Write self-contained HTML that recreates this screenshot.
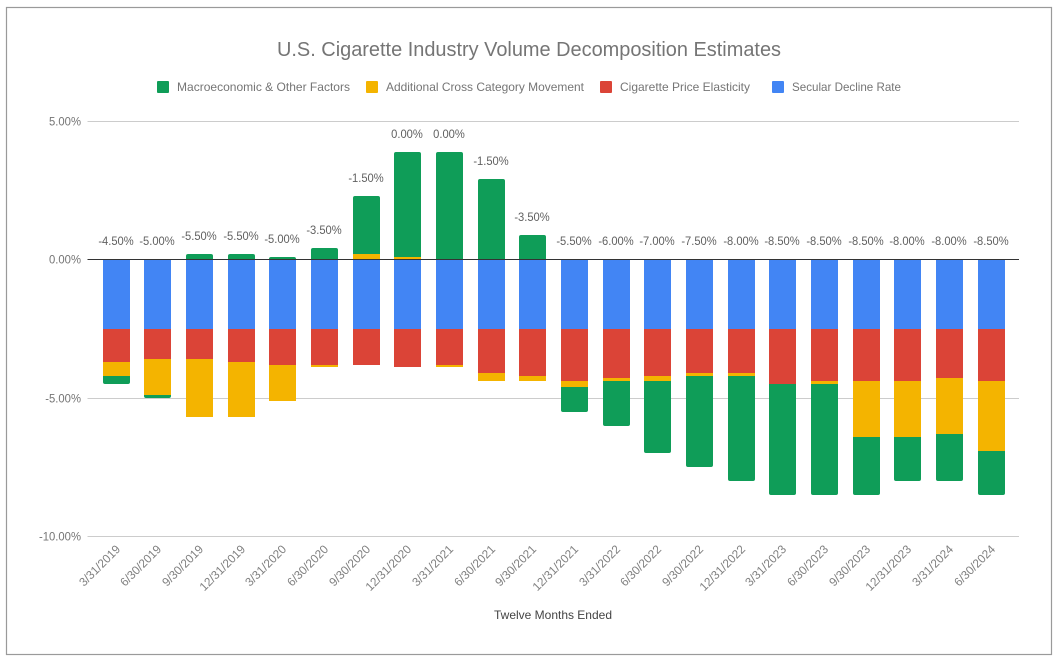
<!DOCTYPE html>
<html lang="en">
<head>
<meta charset="utf-8">
<title>U.S. Cigarette Industry Volume Decomposition Estimates</title>
<style>
html,body{margin:0;padding:0;background:#fff;}
body{width:1059px;height:661px;overflow:hidden;}
svg{display:block;font-family:"Liberation Sans",Arial,sans-serif;}
</style>
</head>
<body>
<svg id="chart" xmlns="http://www.w3.org/2000/svg" width="1059" height="661" viewBox="0 0 1059 661">
  <rect x="0" y="0" width="1059" height="661" fill="#ffffff"/>
  <rect x="6.5" y="7.5" width="1045" height="647" fill="none" stroke="#9a9a9a" stroke-width="1.2"/>
  <text x="277" y="56" font-size="20" fill="#757575" textLength="504" lengthAdjust="spacingAndGlyphs">U.S. Cigarette Industry Volume Decomposition Estimates</text>
  <g>
    <g>
      <rect x="157" y="81" width="12" height="12" rx="1" fill="#0f9d58"/>
      <text x="177" y="91" font-size="12" fill="#757575" textLength="173" lengthAdjust="spacingAndGlyphs">Macroeconomic &amp; Other Factors</text>
    </g>
    <g>
      <rect x="366" y="81" width="12" height="12" rx="1" fill="#f4b400"/>
      <text x="386" y="91" font-size="12" fill="#757575" textLength="198" lengthAdjust="spacingAndGlyphs">Additional Cross Category Movement</text>
    </g>
    <g>
      <rect x="600" y="81" width="12" height="12" rx="1" fill="#db4437"/>
      <text x="620" y="91" font-size="12" fill="#757575" textLength="130" lengthAdjust="spacingAndGlyphs">Cigarette Price Elasticity</text>
    </g>
    <g>
      <rect x="772" y="81" width="12" height="12" rx="1" fill="#4285f4"/>
      <text x="792" y="91" font-size="12" fill="#757575" textLength="109" lengthAdjust="spacingAndGlyphs">Secular Decline Rate</text>
    </g>
  </g>
  <g id="grid"></g>
  <g id="bars"></g>
  <g id="zero"></g>
  <g id="ylabels"></g>
  <g id="xlabels"></g>
  <g id="totals"></g>
  <text x="553" y="619" font-size="12" fill="#444444" text-anchor="middle" textLength="118" lengthAdjust="spacingAndGlyphs">Twelve Months Ended</text>
</svg>
<script>
var categories = ["3/31/2019","6/30/2019","9/30/2019","12/31/2019","3/31/2020","6/30/2020","9/30/2020","12/31/2020","3/31/2021","6/30/2021","9/30/2021","12/31/2021","3/31/2022","6/30/2022","9/30/2022","12/31/2022","3/31/2023","6/30/2023","9/30/2023","12/31/2023","3/31/2024","6/30/2024"];
var secularDecline = [-2.5,-2.5,-2.5,-2.5,-2.5,-2.5,-2.5,-2.5,-2.5,-2.5,-2.5,-2.5,-2.5,-2.5,-2.5,-2.5,-2.5,-2.5,-2.5,-2.5,-2.5,-2.5];
var priceElasticity = [-1.2,-1.1,-1.1,-1.2,-1.3,-1.3,-1.3,-1.4,-1.3,-1.6,-1.7,-1.9,-1.8,-1.7,-1.6,-1.6,-2.0,-1.9,-1.9,-1.9,-1.8,-1.9];
var crossCategory = [-0.5,-1.3,-2.1,-2.0,-1.3,-0.1,0.2,0.1,-0.1,-0.3,-0.2,-0.2,-0.1,-0.2,-0.1,-0.1,0,-0.1,-2.0,-2.0,-2.0,-2.52];
var macroOther = [-0.3,-0.1,0.2,0.2,0.1,0.4,2.1,3.77,3.87,2.9,0.87,-0.9,-1.6,-2.6,-3.3,-3.8,-4.0,-4.0,-2.1,-1.6,-1.7,-1.58];
var totalLabels = [-4.5,-5,-5.5,-5.5,-5,-3.5,-1.5,0,0,-1.5,-3.5,-5.5,-6,-7,-7.5,-8,-8.5,-8.5,-8.5,-8,-8,-8.5];
var yTicks = [5,0,-5,-10];

var NS = "http://www.w3.org/2000/svg";
var plotLeft = 87.5, plotRight = 1019;
var zeroY = 259.3, pxPerUnit = 27.7;
var firstBarLeft = 103, barStep = 41.67, barWidth = 27;

function yScale(v){ return Math.round(zeroY - v * pxPerUnit); }
function xScale(i){ return Math.floor(firstBarLeft + barStep * i); }
function fmt(v){ return v.toFixed(2) + "%"; }
function make(tag, attrs, parent){
  var el = document.createElementNS(NS, tag);
  for (var k in attrs) el.setAttribute(k, attrs[k]);
  parent.appendChild(el);
  return el;
}
function squeeze(t, ratio){
  var len = t.getComputedTextLength();
  t.setAttribute("textLength", (len * ratio).toFixed(2));
  t.setAttribute("lengthAdjust", "spacingAndGlyphs");
}

var gGrid = document.getElementById("grid");
var gBars = document.getElementById("bars");
var gZero = document.getElementById("zero");
var gY = document.getElementById("ylabels");
var gX = document.getElementById("xlabels");
var gT = document.getElementById("totals");

yTicks.forEach(function(v){
  var line = make("rect", {x: plotLeft, y: yScale(v), width: plotRight - plotLeft, height: 1, fill: v === 0 ? "#333333" : "#cccccc"}, v === 0 ? gZero : gGrid);
  
  
  var lab = make("text", {x: 81, y: yScale(v) + 4.5, "text-anchor": "end", "font-size": 12, fill: "#757575"}, gY);
  lab.textContent = fmt(v);
  
  
  squeeze(lab, 0.94);
});

function segment(i, from, to, color, rounded, name){
  if (from === to) return from;
  var x = xScale(i), w = barWidth;
  var y0 = yScale(from), y1 = yScale(to);
  var el;
  if (rounded) {
    var r = Math.min(2, Math.abs(y1 - y0));
    var dir = y1 < y0 ? 1 : -1;
    var d = "M" + x + " " + y0 +
      "L" + x + " " + (y1 + dir * r) +
      "Q" + x + " " + y1 + " " + (x + r) + " " + y1 +
      "L" + (x + w - r) + " " + y1 +
      "Q" + (x + w) + " " + y1 + " " + (x + w) + " " + (y1 + dir * r) +
      "L" + (x + w) + " " + y0 + "Z";
    el = make("path", {d: d, fill: color}, gBars);
  } else {
    el = make("rect", {x: x, y: Math.min(y0, y1), width: w, height: Math.abs(y1 - y0), fill: color}, gBars);
  }
  
  
  return to;
}

categories.forEach(function(cat, i){
  var neg = 0, pos = 0;
  function add(v, color, rounded, name){
    if (v < 0) { segment(i, neg, neg + v, color, rounded, name); neg += v; }
    else if (v > 0) { segment(i, pos, pos + v, color, rounded, name); pos += v; }
  }
  add(secularDecline[i], "#4285f4", false, "bar-secular-decline");
  add(priceElasticity[i], "#db4437", false, "bar-price-elasticity");
  add(crossCategory[i], "#f4b400", false, "bar-cross-category");
  add(macroOther[i], "#0f9d58", true, "bar-macroeconomic");

  var cx = xScale(i) + barWidth / 2;

  var total = make("text", {x: cx - 0.5, y: yScale(pos) - 14, "text-anchor": "middle", "font-size": 12, fill: "#616161"}, gT);
  total.textContent = fmt(totalLabels[i]);
  
  
  squeeze(total, 0.93);

  var ax = cx + 4.5, ay = 550;
  var lab = make("text", {x: ax, y: ay, "text-anchor": "end", "font-size": 12, fill: "#808080", transform: "rotate(-45 " + ax + " " + ay + ")"}, gX);
  lab.textContent = cat;
  
  
  squeeze(lab, 0.98);
});
</script>
</body>
</html>
